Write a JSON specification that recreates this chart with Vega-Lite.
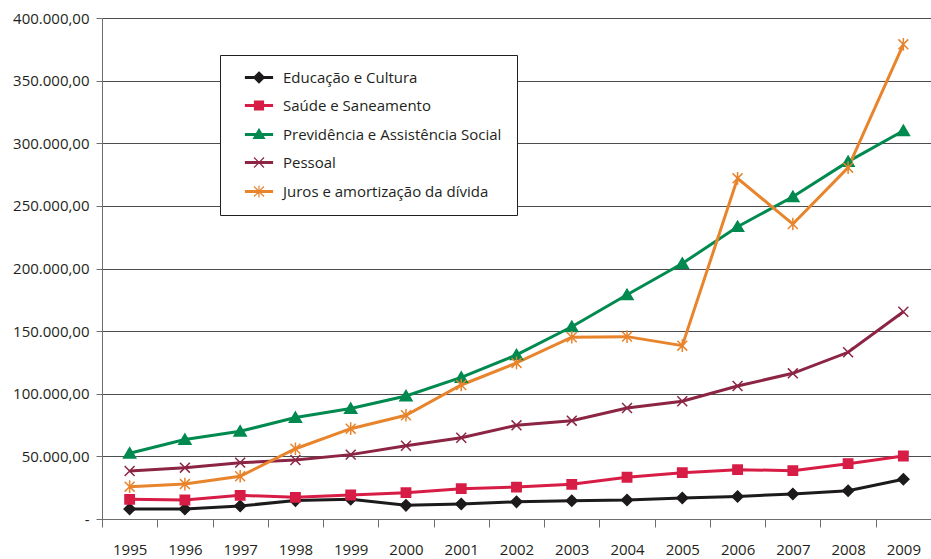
{
  "$schema": "https://vega.github.io/schema/vega-lite/v6.json",
  "autosize": {"type": "none"},
  "padding": {"left": 102, "top": 18, "right": 0, "bottom": 40},
  "width": 829,
  "height": 501,
  "background": "white",
  "config": {
    "view": {"stroke": null},
    "font": "Open Sans"
  },
  "data": {
    "values": [
      {"year": "1995", "series": "Educação e Cultura", "value": 8000},
      {"year": "1996", "series": "Educação e Cultura", "value": 8000},
      {"year": "1997", "series": "Educação e Cultura", "value": 10400},
      {"year": "1998", "series": "Educação e Cultura", "value": 14700},
      {"year": "1999", "series": "Educação e Cultura", "value": 15800},
      {"year": "2000", "series": "Educação e Cultura", "value": 10900},
      {"year": "2001", "series": "Educação e Cultura", "value": 12000},
      {"year": "2002", "series": "Educação e Cultura", "value": 13700},
      {"year": "2003", "series": "Educação e Cultura", "value": 14600},
      {"year": "2004", "series": "Educação e Cultura", "value": 15200},
      {"year": "2005", "series": "Educação e Cultura", "value": 16800},
      {"year": "2006", "series": "Educação e Cultura", "value": 18000},
      {"year": "2007", "series": "Educação e Cultura", "value": 20000},
      {"year": "2008", "series": "Educação e Cultura", "value": 22600},
      {"year": "2009", "series": "Educação e Cultura", "value": 31700},
      {"year": "1995", "series": "Saúde e Saneamento", "value": 15700},
      {"year": "1996", "series": "Saúde e Saneamento", "value": 15200},
      {"year": "1997", "series": "Saúde e Saneamento", "value": 18900},
      {"year": "1998", "series": "Saúde e Saneamento", "value": 17300},
      {"year": "1999", "series": "Saúde e Saneamento", "value": 19200},
      {"year": "2000", "series": "Saúde e Saneamento", "value": 21000},
      {"year": "2001", "series": "Saúde e Saneamento", "value": 24200},
      {"year": "2002", "series": "Saúde e Saneamento", "value": 25500},
      {"year": "2003", "series": "Saúde e Saneamento", "value": 27700},
      {"year": "2004", "series": "Saúde e Saneamento", "value": 33300},
      {"year": "2005", "series": "Saúde e Saneamento", "value": 37000},
      {"year": "2006", "series": "Saúde e Saneamento", "value": 39400},
      {"year": "2007", "series": "Saúde e Saneamento", "value": 38600},
      {"year": "2008", "series": "Saúde e Saneamento", "value": 44200},
      {"year": "2009", "series": "Saúde e Saneamento", "value": 50300},
      {"year": "1995", "series": "Previdência e Assistência Social", "value": 52500},
      {"year": "1996", "series": "Previdência e Assistência Social", "value": 63400},
      {"year": "1997", "series": "Previdência e Assistência Social", "value": 70000},
      {"year": "1998", "series": "Previdência e Assistência Social", "value": 81000},
      {"year": "1999", "series": "Previdência e Assistência Social", "value": 88200},
      {"year": "2000", "series": "Previdência e Assistência Social", "value": 98200},
      {"year": "2001", "series": "Previdência e Assistência Social", "value": 113000},
      {"year": "2002", "series": "Previdência e Assistência Social", "value": 131000},
      {"year": "2003", "series": "Previdência e Assistência Social", "value": 153500},
      {"year": "2004", "series": "Previdência e Assistência Social", "value": 179000},
      {"year": "2005", "series": "Previdência e Assistência Social", "value": 204000},
      {"year": "2006", "series": "Previdência e Assistência Social", "value": 233400},
      {"year": "2007", "series": "Previdência e Assistência Social", "value": 257300},
      {"year": "2008", "series": "Previdência e Assistência Social", "value": 285300},
      {"year": "2009", "series": "Previdência e Assistência Social", "value": 310000},
      {"year": "1995", "series": "Pessoal", "value": 38300},
      {"year": "1996", "series": "Pessoal", "value": 41000},
      {"year": "1997", "series": "Pessoal", "value": 45000},
      {"year": "1998", "series": "Pessoal", "value": 47100},
      {"year": "1999", "series": "Pessoal", "value": 51400},
      {"year": "2000", "series": "Pessoal", "value": 58500},
      {"year": "2001", "series": "Pessoal", "value": 64900},
      {"year": "2002", "series": "Pessoal", "value": 74800},
      {"year": "2003", "series": "Pessoal", "value": 78500},
      {"year": "2004", "series": "Pessoal", "value": 88600},
      {"year": "2005", "series": "Pessoal", "value": 94000},
      {"year": "2006", "series": "Pessoal", "value": 106200},
      {"year": "2007", "series": "Pessoal", "value": 116300},
      {"year": "2008", "series": "Pessoal", "value": 133100},
      {"year": "2009", "series": "Pessoal", "value": 165500},
      {"year": "1995", "series": "Juros e amortização da dívida", "value": 25800},
      {"year": "1996", "series": "Juros e amortização da dívida", "value": 27900},
      {"year": "1997", "series": "Juros e amortização da dívida", "value": 34100},
      {"year": "1998", "series": "Juros e amortização da dívida", "value": 56100},
      {"year": "1999", "series": "Juros e amortização da dívida", "value": 72100},
      {"year": "2000", "series": "Juros e amortização da dívida", "value": 82800},
      {"year": "2001", "series": "Juros e amortização da dívida", "value": 107000},
      {"year": "2002", "series": "Juros e amortização da dívida", "value": 124600},
      {"year": "2003", "series": "Juros e amortização da dívida", "value": 145100},
      {"year": "2004", "series": "Juros e amortização da dívida", "value": 145600},
      {"year": "2005", "series": "Juros e amortização da dívida", "value": 138400},
      {"year": "2006", "series": "Juros e amortização da dívida", "value": 272000},
      {"year": "2007", "series": "Juros e amortização da dívida", "value": 235500},
      {"year": "2008", "series": "Juros e amortização da dívida", "value": 280500},
      {"year": "2009", "series": "Juros e amortização da dívida", "value": 379000}
    ]
  },
  "encoding": {
    "x": {
      "field": "year",
      "type": "ordinal",
      "scale": {"type": "band", "paddingInner": 0, "paddingOuter": 0},
      "axis": {
        "title": null,
        "labelAngle": 0,
        "tickBand": "extent",
        "tickSize": 8,
        "tickColor": "#6d6e71",
        "domainColor": "#6d6e71",
        "labelPadding": 15,
        "labelFontSize": 15,
        "labelColor": "#231f20",
        "labelFont": "Open Sans",
        "grid": false
      }
    },
    "y": {
      "field": "value",
      "type": "quantitative",
      "scale": {"domain": [0, 400000], "nice": false},
      "axis": {
        "title": null,
        "values": [0, 50000, 100000, 150000, 200000, 250000, 300000, 350000, 400000],
        "labelExpr": "datum.value == 0 ? '-' : format(datum.value / 1000, 'd') + '.000,00'",
        "tickSize": 6,
        "tickColor": "#6d6e71",
        "domainColor": "#6d6e71",
        "gridColor": "#4d4d4f",
        "gridWidth": 1,
        "labelPadding": 7,
        "labelFontSize": 15,
        "labelColor": "#231f20",
        "labelFont": "Open Sans"
      }
    }
  },
  "layer": [
    {
      "mark": {"type": "line", "strokeWidth": 3},
      "encoding": {
        "color": {
          "field": "series",
          "type": "nominal",
          "scale": {
            "domain": ["Educação e Cultura", "Saúde e Saneamento", "Previdência e Assistência Social", "Pessoal", "Juros e amortização da dívida"],
            "range": ["#1c1a1b", "#d71d45", "#008a4f", "#8c2444", "#e8842c"]
          },
          "legend": {
            "title": null,
            "orient": "none",
            "legendX": 118,
            "legendY": 37,
            "strokeColor": "#231f20",
            "fillColor": "white",
            "padding": 15,
            "rowPadding": 12,
            "symbolSize": 100,
            "symbolOffset": 16.5,
            "labelOffset": 16.5,
            "labelFontSize": 15,
            "labelFont": "Open Sans",
            "labelColor": "#231f20",
            "labelLimit": 400,
            "encode": {
              "symbols": {
                "update": {
                  "shape": {"signal": "datum.value === 'Educação e Cultura' ? 'M-2.7,-0.2H2.7V0.2H-2.7Z M0,-1.1L1.1,0L0,1.1L-1.1,0Z' : datum.value === 'Saúde e Saneamento' ? 'M-2.7,-0.2H2.7V0.2H-2.7Z M-0.9,-0.9H0.9V0.9H-0.9Z' : datum.value === 'Previdência e Assistência Social' ? 'M-2.7,-0.2H2.7V0.2H-2.7Z M0,-1.1L1.1,0.8L-1.1,0.8Z' : datum.value === 'Pessoal' ? 'M-2.7,-0.2H2.7V0.2H-2.7Z M-1,-1L1,1M1,-1L-1,1' : 'M-2.7,-0.2H2.7V0.2H-2.7Z M-1,-1L1,1M1,-1L-1,1M0,-1.2L0,1.2'"},
                  "fill": {"scale": "color", "field": "value"},
                  "stroke": {"scale": "color", "field": "value"},
                  "strokeWidth": {"value": 1.2},
                  "size": {"value": 100},
                  "opacity": {"value": 1},
                  "fillOpacity": {"value": 1}
                }
              }
            }
          }
        }
      }
    },
    {
      "mark": {"type": "point", "size": 121, "strokeWidth": 1.5, "opacity": 1},
      "encoding": {
        "shape": {
          "condition": [
            {"test": "datum.series === 'Educação e Cultura'", "value": "M0,-1L1,0L0,1L-1,0Z"},
            {"test": "datum.series === 'Saúde e Saneamento'", "value": "M-0.85,-0.85L0.85,-0.85L0.85,0.85L-0.85,0.85Z"},
            {"test": "datum.series === 'Previdência e Assistência Social'", "value": "M0,-1L1.1,0.85L-1.1,0.85Z"},
            {"test": "datum.series === 'Pessoal'", "value": "M-0.9,-0.9L0.9,0.9M0.9,-0.9L-0.9,0.9"}
          ],
          "value": "M-0.9,-0.9L0.9,0.9M0.9,-0.9L-0.9,0.9M0,-1.15L0,1.15"
        },
        "stroke": {
          "condition": [
            {"test": "datum.series === 'Educação e Cultura'", "value": "#1c1a1b"},
            {"test": "datum.series === 'Saúde e Saneamento'", "value": "#d71d45"},
            {"test": "datum.series === 'Previdência e Assistência Social'", "value": "#008a4f"},
            {"test": "datum.series === 'Pessoal'", "value": "#8c2444"}
          ],
          "value": "#e8842c"
        },
        "fill": {
          "condition": [
            {"test": "datum.series === 'Educação e Cultura'", "value": "#1c1a1b"},
            {"test": "datum.series === 'Saúde e Saneamento'", "value": "#d71d45"},
            {"test": "datum.series === 'Previdência e Assistência Social'", "value": "#008a4f"}
          ],
          "value": "transparent"
        }
      }
    }
  ]
}
